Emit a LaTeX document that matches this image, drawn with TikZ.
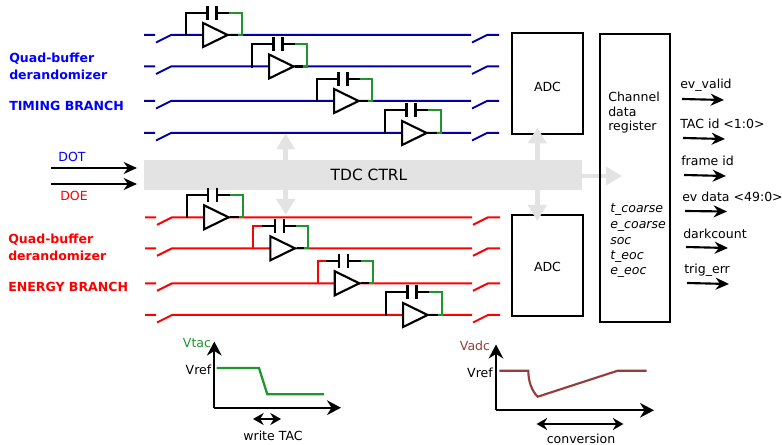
\documentclass[tikz,border=0pt]{standalone}
\usepackage{fontspec}
\setmainfont{DejaVu Sans}
\usetikzlibrary{arrows.meta,shapes.geometric}
\definecolor{timingwire}{RGB}{0,0,165}
\definecolor{energywire}{RGB}{255,0,0}
\definecolor{loopgreen}{RGB}{30,150,45}
\definecolor{adcbrown}{RGB}{150,60,60}
\definecolor{ctrlgray}{RGB}{227,227,227}
\tikzset{
  wire/.style={line width=1.7pt,line cap=rect,line join=miter,black},
  timing/.style={line width=1.5pt,timingwire},
  energy/.style={line width=1.5pt,energywire},
  loopback/.style={line width=1.7pt,loopgreen,line join=miter},
  ampnode/.style={draw,line width=1.6pt,fill=white,isosceles triangle,isosceles triangle stretches,
    minimum width=18pt,minimum height=18.4pt,inner sep=0pt,anchor=apex,xshift=1.8pt},
  capnode/.style={minimum width=6.4pt,minimum height=9pt,inner sep=0pt,
    append after command={(\tikzlastnode.north west) edge[wire] (\tikzlastnode.south west)
      (\tikzlastnode.north east) edge[wire] (\tikzlastnode.south east)}},
  blockbox/.style={draw,line width=1.6pt,inner sep=0pt},
  textnode/.style={inner sep=0pt,font=\fontsize{9.4}{11}\selectfont},
  lefttext/.style={textnode,anchor=west},
  boldtext/.style={lefttext,font=\fontsize{9.4}{11}\selectfont\bfseries},
  fieldtext/.style={lefttext,font=\fontsize{9.4}{11}\selectfont\itshape},
  sigarrow/.style={line width=1.6pt,-{Stealth[length=10pt,width=9pt]}},
  axis/.style={line width=1.7pt,-{Stealth[length=10.5pt,width=11pt]}},
  span/.style={line width=1.5pt,{Stealth[length=8pt,width=9pt]}-{Stealth[length=8pt,width=9pt]}},
  ctrlarrow/.style={line width=3.5pt,ctrlgray,-{Triangle[length=12pt,width=13.5pt]}},
}
\begin{document}
\begin{tikzpicture}[x=0.75pt,y=-0.75pt]
  \useasboundingbox (0,0) rectangle (782,445);
  % ctrl bar and blocks
  \node[fill=ctrlgray,minimum width=328.5pt,minimum height=22.5pt,inner sep=0pt] (ctrl) at (363,175) {};
  \node[textnode,font=\fontsize{11.6}{14}\selectfont] (ctrltext) at (369,175) {TDC CTRL};
  \node[blockbox,minimum width=53.5pt,minimum height=75.4pt] (adctop) at (547.7,83.7) {};
  \node[blockbox,minimum width=53.5pt,minimum height=75.7pt] (adcbot) at (547.5,265.5) {};
  \node[textnode] (adctoptext) at (547.5,87) {ADC};
  \node[textnode] (adcbottext) at (547.5,267) {ADC};
  \draw
    (285.7,133.5) coordinate (ctrlup)
    (285.7,215) coordinate (ctrldown)
    (537.3,127.5) coordinate (adcup)
    (537.3,221) coordinate (adcdown)
    (622,176) coordinate (regin);
  \begin{scope}[ctrlarrow]
    \draw (ctrlup |- ctrl.north) to (ctrlup);
    \draw (ctrldown |- ctrl.south) to (ctrldown);
    \draw (adcup |- ctrl.north) to (adcup);
    \draw (adcdown |- ctrl.south) to (adcdown);
    \draw (ctrl.east |- regin) to (regin);
  \end{scope}
  \node[blockbox,minimum width=52.5pt,minimum height=216pt] (chreg) at (635,178) {};
  % wire points
  \draw
    (144,35) coordinate (t1a) (155,35) coordinate (t1b) (156,42.5) coordinate (t1c) (171,35) coordinate (t1d)
    (471,35) coordinate (t1e) (472,42.5) coordinate (t1f) (487,35) coordinate (t1g) (499,35) coordinate (t1h)
    (144,66.5) coordinate (t2a) (155,66.5) coordinate (t2b) (156,74) coordinate (t2c) (171,66.5) coordinate (t2d)
    (471,66.5) coordinate (t2e) (472,74) coordinate (t2f) (487,66.5) coordinate (t2g) (499,66.5) coordinate (t2h)
    (144,101) coordinate (t3a) (155,101) coordinate (t3b) (156,108.5) coordinate (t3c) (171,101) coordinate (t3d)
    (471,101) coordinate (t3e) (472,108.5) coordinate (t3f) (487,101) coordinate (t3g) (499,101) coordinate (t3h)
    (144,133) coordinate (t4a) (155,133) coordinate (t4b) (156,140.5) coordinate (t4c) (171,133) coordinate (t4d)
    (471,133) coordinate (t4e) (472,140.5) coordinate (t4f) (487,133) coordinate (t4g) (499,133) coordinate (t4h)
    (145,217.3) coordinate (e1a) (156,217.3) coordinate (e1b) (157,224.8) coordinate (e1c) (172,217.3) coordinate (e1d)
    (472,217.3) coordinate (e1e) (473,224.8) coordinate (e1f) (488,217.3) coordinate (e1g) (500,217.3) coordinate (e1h)
    (145,248.3) coordinate (e2a) (156,248.3) coordinate (e2b) (157,255.8) coordinate (e2c) (172,248.3) coordinate (e2d)
    (472,248.3) coordinate (e2e) (473,255.8) coordinate (e2f) (488,248.3) coordinate (e2g) (500,248.3) coordinate (e2h)
    (145,283.3) coordinate (e3a) (156,283.3) coordinate (e3b) (157,290.8) coordinate (e3c) (172,283.3) coordinate (e3d)
    (472,283.3) coordinate (e3e) (473,290.8) coordinate (e3f) (488,283.3) coordinate (e3g) (500,283.3) coordinate (e3h)
    (145,315) coordinate (e4a) (156,315) coordinate (e4b) (157,322.5) coordinate (e4c) (172,315) coordinate (e4d)
    (472,315) coordinate (e4e) (473,322.5) coordinate (e4f) (488,315) coordinate (e4g) (500,315) coordinate (e4h);
  \begin{scope}[timing]
    \draw (t1a) to (t1b) (t1c) to (t1d) to (t1e) (t1f) to (t1g) to (t1h);
    \draw (t2a) to (t2b) (t2c) to (t2d) to (t2e) (t2f) to (t2g) to (t2h);
    \draw (t3a) to (t3b) (t3c) to (t3d) to (t3e) (t3f) to (t3g) to (t3h);
    \draw (t4a) to (t4b) (t4c) to (t4d) to (t4e) (t4f) to (t4g) to (t4h);
  \end{scope}
  \begin{scope}[energy]
    \draw (e1a) to (e1b) (e1c) to (e1d) to (e1e) (e1f) to (e1g) to (e1h);
    \draw (e2a) to (e2b) (e2c) to (e2d) to (e2e) (e2f) to (e2g) to (e2h);
    \draw (e3a) to (e3b) (e3c) to (e3d) to (e3e) (e3f) to (e3g) to (e3h);
    \draw (e4a) to (e4b) (e4c) to (e4d) to (e4e) (e4f) to (e4g) to (e4h);
  \end{scope}
  % integrators
  \node[ampnode] (tamp1) at (228,35) {};
  \node[ampnode] (tamp2) at (294,66.5) {};
  \node[ampnode] (tamp3) at (359,101) {};
  \node[ampnode] (tamp4) at (427,133) {};
  \node[ampnode] (eamp1) at (229,217.3) {};
  \node[ampnode] (eamp2) at (295.3,248.3) {};
  \node[ampnode] (eamp3) at (359.7,283.3) {};
  \node[ampnode] (eamp4) at (428,315) {};
  \node[capnode] (tcap1) at (212,13) {};
  \node[capnode] (tcap2) at (278,44) {};
  \node[capnode] (tcap3) at (343,79) {};
  \node[capnode] (tcap4) at (411,110) {};
  \node[capnode] (ecap1) at (212.7,195) {};
  \node[capnode] (ecap2) at (279.3,226) {};
  \node[capnode] (ecap3) at (343.7,261) {};
  \node[capnode] (ecap4) at (412,292) {};
  \draw
    (186,35) coordinate (t1j) (229,13) coordinate (t1p) (242,35) coordinate (t1n) (238,35) coordinate (t1q)
    (252,66.5) coordinate (t2j) (295,44) coordinate (t2p) (307,66.5) coordinate (t2n) (303,66.5) coordinate (t2q)
    (317,101) coordinate (t3j) (360,79) coordinate (t3p) (372,101) coordinate (t3n) (368,101) coordinate (t3q)
    (385,133) coordinate (t4j) (428,110) coordinate (t4p) (441,133) coordinate (t4n) (437,133) coordinate (t4q)
    (186.7,217.3) coordinate (e1j) (230,195) coordinate (e1p) (243,217.3) coordinate (e1n) (239,217.3) coordinate (e1q)
    (253.3,248.3) coordinate (e2j) (296,226) coordinate (e2p) (308,248.3) coordinate (e2n) (304,248.3) coordinate (e2q)
    (317.7,283.3) coordinate (e3j) (361,261) coordinate (e3p) (373,283.3) coordinate (e3n) (369,283.3) coordinate (e3q)
    (386,315) coordinate (e4j) (429,292) coordinate (e4p) (442,315) coordinate (e4n) (438,315) coordinate (e4q)
    (262,226) coordinate (e2r) (326,261) coordinate (e3r);
  \begin{scope}[wire]
    \draw (t1j) |- (tcap1.west) (tcap1.east) to (t1p) (tamp1.apex) to (t1q);
    \draw (t2j) |- (tcap2.west) (tcap2.east) to (t2p) (tamp2.apex) to (t2q);
    \draw (t3j) |- (tcap3.west) (tcap3.east) to (t3p) (tamp3.apex) to (t3q);
    \draw (t4j) |- (tcap4.west) (tcap4.east) to (t4p) (tamp4.apex) to (t4q);
    \draw (e1j) |- (ecap1.west) (ecap1.east) to (e1p) (eamp1.apex) to (e1q);
    \draw (e2r) to (ecap2.west) (ecap2.east) to (e2p) (eamp2.apex) to (e2q);
    \draw (e3r) to (ecap3.west) (ecap3.east) to (e3p) (eamp3.apex) to (e3q);
    \draw (e4j) |- (ecap4.west) (ecap4.east) to (e4p) (eamp4.apex) to (e4q);
  \end{scope}
  \begin{scope}[energy,line join=miter]
    \draw (e2j) |- (e2r);
    \draw (e3j) |- (e3r);
  \end{scope}
  \begin{scope}[loopback]
    \draw (t1p) -| (t1n) to (t1q);
    \draw (t2p) -| (t2n) to (t2q);
    \draw (t3p) -| (t3n) to (t3q);
    \draw (t4p) -| (t4n) to (t4q);
    \draw (e1p) -| (e1n) to (e1q);
    \draw (e2p) -| (e2n) to (e2q);
    \draw (e3p) -| (e3n) to (e3q);
    \draw (e4p) -| (e4n) to (e4q);
  \end{scope}
  % left side
  \node[boldtext,blue] (tquad) at (9,59) {Quad-buffer};
  \node[boldtext,blue] (tderand) at (9,75) {derandomizer};
  \node[boldtext,blue] (tbranch) at (9,106) {TIMING BRANCH};
  \node[boldtext,red] (equad) at (8,240) {Quad-buffer};
  \node[boldtext,red] (ederand) at (8,256) {derandomizer};
  \node[boldtext,red] (ebranch) at (8,287) {ENERGY BRANCH};
  \node[textnode,blue] (dot) at (72,157) {DOT};
  \node[textnode,red] (doe) at (74,196) {DOE};
  \draw
    (51,168) coordinate (dota)
    (137,168) coordinate (dotb)
    (51,184) coordinate (doea)
    (137,184) coordinate (doeb);
  \begin{scope}[sigarrow]
    \draw (dota) to (dotb);
    \draw (doea) to (doeb);
  \end{scope}
  % register
  \node[lefttext] (regline1) at (608,97) {Channel};
  \node[lefttext] (regline2) at (608,112) {data};
  \node[lefttext] (regline3) at (608,127) {register};
  \node[fieldtext] (regf1) at (610,210) {t\_coarse};
  \node[fieldtext] (regf2) at (610,226) {e\_coarse};
  \node[fieldtext] (regf3) at (610,241) {soc};
  \node[fieldtext] (regf4) at (610,257) {t\_eoc};
  \node[fieldtext] (regf5) at (610,272) {e\_eoc};
  \node[lefttext] (out1) at (680,85) {ev\_valid};
  \node[lefttext] (out2) at (680,124) {TAC id <1:0>};
  \node[lefttext] (out3) at (681,161) {frame id};
  \node[lefttext] (out4) at (682,197) {ev data <49:0>};
  \node[lefttext] (out5) at (683,234) {darkcount};
  \node[lefttext] (out6) at (684,270) {trig\_err};
  \draw
    (682,99) coordinate (out1a) (724,100) coordinate (out1b)
    (683,138) coordinate (out2a) (725,139) coordinate (out2b)
    (684,175) coordinate (out3a) (726,176) coordinate (out3b)
    (685,211) coordinate (out4a) (727,211.5) coordinate (out4b)
    (686,247) coordinate (out5a) (728,248) coordinate (out5b)
    (687,283) coordinate (out6a) (729,284) coordinate (out6b);
  \begin{scope}[sigarrow]
    \draw (out1a) to (out1b);
    \draw (out2a) to (out2b);
    \draw (out3a) to (out3b);
    \draw (out4a) to (out4b);
    \draw (out5a) to (out5b);
    \draw (out6a) to (out6b);
  \end{scope}
  % waveforms
  \node[textnode,loopgreen] (vtac) at (197,343) {Vtac};
  \node[textnode] (vtacref) at (198.5,370) {Vref};
  \node[textnode] (writetac) at (273,436) {write TAC};
  \node[textnode,adcbrown] (vadc) at (475,346) {Vadc};
  \node[textnode] (vadcref) at (480,373) {Vref};
  \node[textnode] (conv) at (581,438.5) {conversion};
  \draw
    (214.3,407.7) coordinate (vtaco) (214.3,341.5) coordinate (vtacy) (341,407.7) coordinate (vtacx)
    (216.7,368) coordinate (vtac1) (259,368) coordinate (vtac2) (267.3,394.3) coordinate (vtac3) (324,394.3) coordinate (vtac4)
    (253,419) coordinate (writea) (281,419) coordinate (writeb)
    (496,410.3) coordinate (vadco) (496,344.5) coordinate (vadcy) (654,410.3) coordinate (vadcx)
    (499.3,370.7) coordinate (vadc1) (528.3,370.7) coordinate (vadc2) (537.7,396.7) coordinate (vadc3)
    (617.7,370.7) coordinate (vadc4) (646.7,370.7) coordinate (vadc5)
    (536.5,424) coordinate (conva) (623.5,424) coordinate (convb);
  \begin{scope}[axis]
    \draw (vtaco) to (vtacy);
    \draw (vtaco) to (vtacx);
    \draw (vadco) to (vadcy);
    \draw (vadco) to (vadcx);
  \end{scope}
  \draw[loopback] (vtac1) to (vtac2) to (vtac3) to (vtac4);
  \draw[line width=1.6pt,adcbrown] (vadc1) to (vadc2) .. controls (528.3,382) and (532,391) .. (vadc3) to (vadc4) to (vadc5);
  \draw[span] (writea) to (writeb);
  \draw[span] (conva) to (convb);
\end{tikzpicture}
\end{document}
